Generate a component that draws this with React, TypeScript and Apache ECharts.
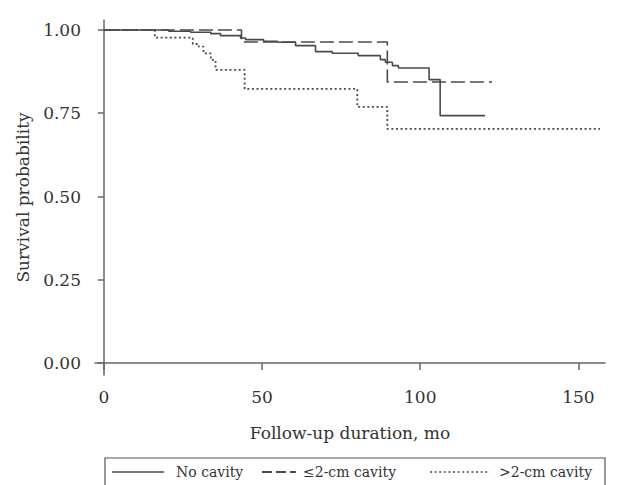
import React, { useEffect, useRef } from "react";
import * as echarts from "echarts";

// Kaplan–Meier step points [months, survival probability]
const noCavity: [number, number][] = [
  [0, 1.0], [20.5, 0.996], [27.4, 0.993], [33.8, 0.989], [36.9, 0.983],
  [43.2, 0.976], [44.8, 0.971], [50.5, 0.966], [54.9, 0.963], [60.6, 0.953],
  [66.9, 0.935], [72.2, 0.93], [80.4, 0.923], [87.4, 0.911], [89.0, 0.903],
  [91.2, 0.893], [93.1, 0.886], [102.8, 0.851], [106.3, 0.743], [120.5, 0.743],
];
const smallCavity: [number, number][] = [
  [0, 1.0], [43.5, 0.964], [89.6, 0.844], [122.7, 0.844],
];
const largeCavity: [number, number][] = [
  [0, 1.0], [16.1, 0.977], [28.1, 0.958], [30.0, 0.95], [31.5, 0.93],
  [33.8, 0.91], [35.3, 0.88], [44.5, 0.823], [80.1, 0.769], [89.6, 0.703],
  [156.8, 0.703],
];
const seriesNames = ["No cavity", "≤2-cm cavity", ">2-cm cavity"];
const xTicks = [0, 50, 100, 150];
const yTicks = [0, 0.25, 0.5, 0.75, 1];

const FONT = "DejaVu Serif";
const INK = "#4a4a4a";
const TXT = "#333";
const SOLID: number[] | "solid" = "solid";
const DASH = [14, 5];
const DOT = [2, 2.6];

export default function App() {
  const ref = useRef<HTMLDivElement>(null);
  useEffect(() => {
    document.body.style.margin = "0";
    if (!ref.current) return;
    const chart = echarts.init(ref.current, undefined, { renderer: "svg" });
    const lineBase = { color: INK, width: 1.6 };
    const ly = 472;
    const legendItems = [
      { x1: 112, x2: 164, tx: 176, dash: null as number[] | null, w: 1.6 },
      { x1: 262, x2: 296, tx: 303, dash: [10, 4], w: 1.8 },
      { x1: 430, x2: 490, tx: 499, dash: DOT, w: 1.6 },
    ];
    const legendGraphics: any[] = [];
    legendItems.forEach((it, i) => {
      legendGraphics.push({
        type: "line",
        shape: { x1: it.x1, y1: ly, x2: it.x2, y2: ly },
        style: { stroke: INK, lineWidth: it.w, lineDash: it.dash || undefined },
        silent: true,
      });
      legendGraphics.push({
        type: "text",
        x: it.tx,
        y: ly,
        style: {
          text: seriesNames[i],
          fontFamily: FONT,
          fontSize: 14,
          fill: TXT,
          verticalAlign: "middle",
          align: "left",
        },
        silent: true,
      });
    });
    chart.setOption({
      animation: false,
      backgroundColor: "#fff",
      textStyle: { fontFamily: FONT },
      grid: { left: 95, right: 13, top: 20, bottom: 110 },
      xAxis: {
        type: "value",
        min: -2.8,
        max: 158.4,
        name: "Follow-up duration, mo",
        nameLocation: "middle",
        nameGap: 49,
        nameTextStyle: { fontFamily: FONT, fontSize: 17, color: TXT },
        axisLine: { show: true, lineStyle: { color: "#666", width: 1.5 } },
        axisTick: { show: true, length: 7, customValues: xTicks, lineStyle: { color: "#666", width: 1.5 } },
        axisLabel: { customValues: xTicks, fontFamily: FONT, fontSize: 17, color: TXT, margin: 13 },
        splitLine: { show: false },
      },
      yAxis: {
        type: "value",
        min: -0.036,
        max: 1.03,
        name: "Survival probability",
        nameLocation: "middle",
        nameGap: 64,
        nameTextStyle: { fontFamily: FONT, fontSize: 17, color: TXT },
        axisLine: { show: true, lineStyle: { color: "#666", width: 1.5 } },
        axisTick: { show: true, length: 6, customValues: yTicks, lineStyle: { color: "#666", width: 1.5 } },
        axisLabel: {
          customValues: yTicks,
          fontFamily: FONT,
          fontSize: 17,
          color: TXT,
          margin: 14,
          formatter: (v: number) => v.toFixed(2),
        },
        splitLine: { show: false },
      },
      graphic: [
        {
          type: "rect",
          shape: { x: 105, y: 458, width: 500, height: 40 },
          style: { fill: "none", stroke: "#555", lineWidth: 1.2 },
          silent: true,
        },
        ...legendGraphics,
      ],
      series: [
        {
          name: seriesNames[0],
          type: "line",
          step: "end",
          symbol: "none",
          data: noCavity,
          lineStyle: { ...lineBase, type: SOLID },
          z: 3,
        },
        {
          name: seriesNames[1],
          type: "line",
          step: "end",
          symbol: "none",
          data: smallCavity,
          lineStyle: { ...lineBase, type: DASH },
          z: 2,
        },
        {
          name: seriesNames[2],
          type: "line",
          step: "end",
          symbol: "none",
          data: largeCavity,
          lineStyle: { ...lineBase, width: 1.8, type: DOT },
          z: 1,
        },
      ],
    });
    return () => chart.dispose();
  }, []);
  return <div ref={ref} style={{ width: 618, height: 485 }} />;
}
